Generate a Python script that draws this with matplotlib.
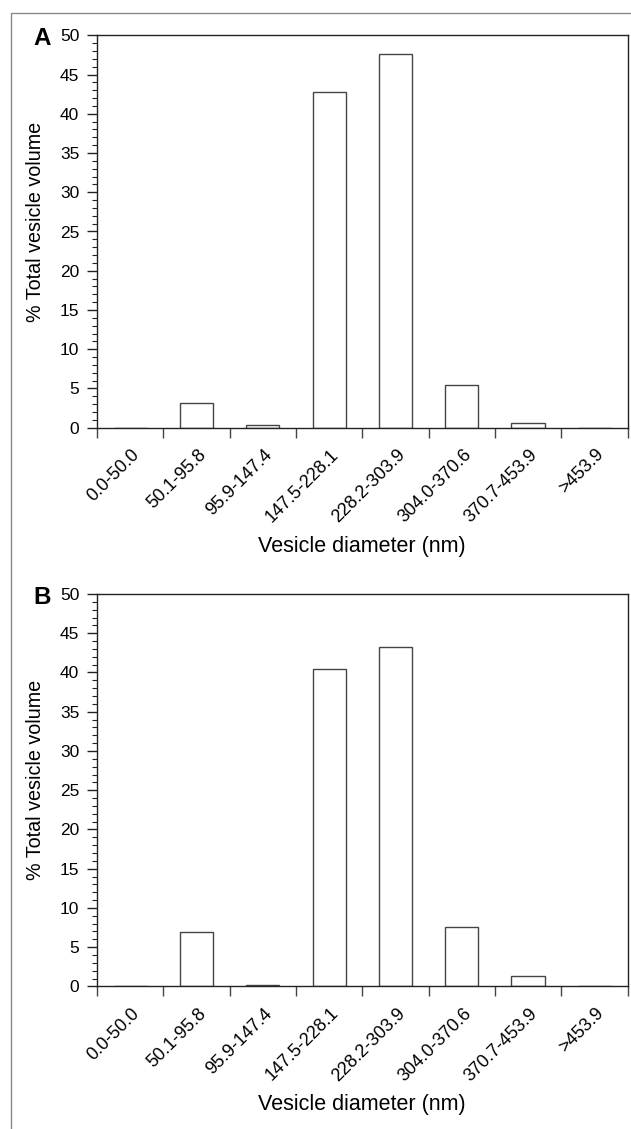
import matplotlib
matplotlib.use("Agg")
import matplotlib.pyplot as plt
import matplotlib.transforms as mtransforms
from matplotlib.patches import Rectangle
from matplotlib.ticker import MultipleLocator, FixedLocator, NullFormatter
import numpy as np

plt.rcParams['font.family'] = ['Liberation Sans', 'DejaVu Sans']

categories = ["0.0-50.0", "50.1-95.8", "95.9-147.4", "147.5-228.1",
              "228.2-303.9", "304.0-370.6", "370.7-453.9", ">453.9"]
values_A = [0.0, 3.2, 0.35, 42.8, 47.6, 5.5, 0.65, 0.0]
values_B = [0.0, 6.9, 0.2, 40.5, 43.3, 7.6, 1.3, 0.0]
panel_labels = ["A", "B"]
y_label = "% Total vesicle volume"
x_label = "Vesicle diameter (nm)"

W, H = 631, 1129
fig = plt.figure(figsize=(W / 100, H / 100), dpi=100)

# figure frame (gray border, open to the right/bottom)
fig.patches.append(Rectangle((10.5 / W, -0.1), 1.2, 1 - 12.5 / H + 0.1,
                             transform=fig.transFigure, fill=False,
                             edgecolor='#8a8a8a', linewidth=1.0))

L, R = 97, 627.5
panels = [
    dict(top=35.3, bottom=427.7, vals=values_A, letter=panel_labels[0]),
    dict(top=594.0, bottom=986.4, vals=values_B, letter=panel_labels[1]),
]

for p in panels:
    ax = fig.add_axes((L / W, 1 - p['bottom'] / H, (R - L) / W,
                       (p['bottom'] - p['top']) / H))
    x = np.arange(len(categories))
    ax.bar(x, p['vals'], width=0.5, facecolor='white', edgecolor='#444444',
           linewidth=1.0, zorder=2)
    ax.set_xlim(-0.5, len(categories) - 0.5)
    ax.set_ylim(0, 50)
    for s in ax.spines.values():
        s.set_color('#222222')
        s.set_linewidth(1.0)
        s.set_zorder(3)

    # y ticks
    ax.yaxis.set_major_locator(MultipleLocator(5))
    ax.yaxis.set_minor_locator(MultipleLocator(1))
    ax.tick_params(axis='y', which='major', direction='out', length=7.2,
                   width=1, pad=5.5, labelsize=12.5, colors='#222222',
                   labelcolor='black')
    ax.tick_params(axis='y', which='minor', direction='out', length=3.6,
                   width=0.8, colors='#222222')

    # x: boundary ticks (major, no labels), labels at centers (minor)
    ax.xaxis.set_major_locator(FixedLocator(np.arange(len(categories) + 1) - 0.5))
    ax.xaxis.set_major_formatter(NullFormatter())
    ax.xaxis.set_minor_locator(FixedLocator(x))
    ax.set_xticklabels(categories, minor=True, rotation=45, ha='right',
                       va='center', rotation_mode='anchor', fontsize=13)
    ax.tick_params(axis='x', which='major', direction='out', length=7.2,
                   width=1, colors='#444444')
    ax.tick_params(axis='x', which='minor', length=0, pad=17.5,
                   labelcolor='black')
    off = mtransforms.ScaledTranslation(7 / 100, 0, fig.dpi_scale_trans)
    for lab in ax.get_xticklabels(minor=True):
        lab.set_transform(lab.get_transform() + off)

    # axis titles
    fig.text((L + R) / 2 / W, 1 - (p['bottom'] + 118.5) / H, x_label,
             ha='center', va='center', fontsize=15.5)
    fig.text(35.5 / W, 1 - (p['top'] + 186.2) / H, y_label, rotation=90,
             ha='center', va='center', fontsize=14.2)
    fig.text(41.7 / W, 1 - (p['top'] + 3.2) / H, p['letter'],
             ha='center', va='center', fontsize=17.5, fontweight='bold')

fig.savefig("out.png", dpi=100)
